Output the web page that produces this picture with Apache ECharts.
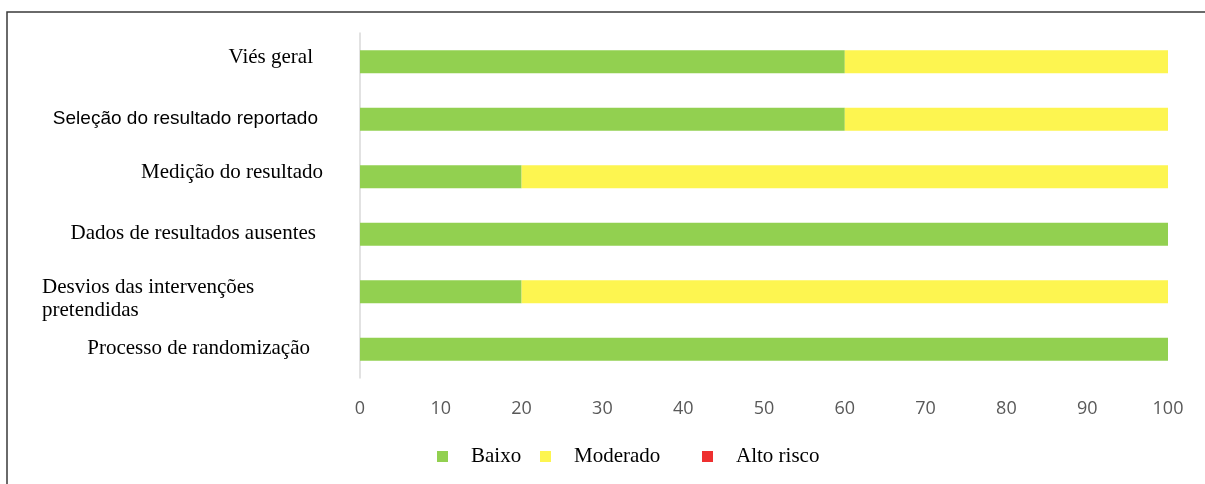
<!DOCTYPE html>
<html>
<head>
<meta charset="utf-8">
<script src="https://cdn.jsdelivr.net/npm/echarts@6/dist/echarts.min.js"></script>
<style>
html,body{margin:0;padding:0;background:#fff;}
#chart{width:1205px;height:484px;}
</style>
</head>
<body>
<div id="chart"></div>
<script>
// Data (bottom to top, as ECharts places categories on a y category axis)
const categories = [
  'Processo de randomização',
  'Desvios das intervenções\npretendidas',
  'Dados de resultados ausentes',
  'Medição do resultado',
  'Seleção do resultado reportado',
  'Viés geral'
];
const seriesNames = ['Baixo', 'Moderado', 'Alto risco'];
const baixo = [100, 20, 100, 20, 60, 60];
const moderado = [0, 80, 0, 80, 40, 40];
const altoRisco = [0, 0, 0, 0, 0, 0];
const xTicks = [0, 10, 20, 30, 40, 50, 60, 70, 80, 90, 100];

const colors = ['#92d050', '#fdf550', '#ee3030'];
const serif = '"Liberation Serif", "Times New Roman", serif';
const sans = '"Liberation Sans", Arial, sans-serif';

// label style per category index
const labelStyleKey = ['p', 'd', 'da', 'm', 's', 'v'];

const chart = echarts.init(document.getElementById('chart'), null, {renderer: 'canvas'});
const serifBase = {fontFamily: serif, fontSize: 21, color: '#000', lineHeight: 23};
chart.setOption({
  animation: false,
  backgroundColor: '#fff',
  graphic: [{
    type: 'rect',
    shape: {x: 7, y: 12, width: 1400, height: 600},
    style: {fill: 'none', stroke: '#3a3a3a', lineWidth: 1.5},
    silent: true
  }],
  grid: {left: 360, right: 37, top: 33, bottom: 106, containLabel: false},
  xAxis: {
    type: 'value',
    min: xTicks[0],
    max: xTicks[xTicks.length - 1],
    interval: xTicks[1] - xTicks[0],
    axisLine: {show: false},
    axisTick: {show: false},
    splitLine: {show: false},
    axisLabel: {
      margin: 22,
      fontFamily: '"Open Sans", sans-serif',
      fontSize: 18,
      color: '#595959'
    }
  },
  yAxis: {
    type: 'category',
    data: categories,
    axisLine: {show: true, lineStyle: {color: '#d9d9d9', width: 1.5}},
    axisTick: {show: false},
    splitLine: {show: false},
    axisLabel: {
      margin: 37,
      formatter: function (value, index) {
        const key = labelStyleKey[index];
        if (key === 'd') {
          const lines = value.split('\n');
          return '{sp| }\n{d|' + lines[0] + '}\n{d|' + lines[1] + '}';
        }
        return '{' + key + '|' + value + '}';
      },
      rich: {
        p: Object.assign({}, serifBase, {padding: [0, 13, 2, 0]}),
        sp: {fontSize: 2, lineHeight: 14, color: 'transparent'},
        d: Object.assign({}, serifBase, {width: 281, align: 'left'}),
        da: Object.assign({}, serifBase, {padding: [0, 7, 2, 0]}),
        m: Object.assign({}, serifBase, {padding: [0, 0, 8, 0]}),
        s: {fontFamily: sans, fontSize: 19, color: '#000', padding: [0, 5, 0, 0]},
        v: Object.assign({}, serifBase, {padding: [0, 10, 8, 0]})
      }
    }
  },
  legend: [
    {left: 432, data: [seriesNames[0]]},
    {left: 535, data: [seriesNames[1]]},
    {left: 697, data: [seriesNames[2]]}
  ].map(function (l) {
    return Object.assign({
      top: 441,
      icon: 'rect',
      itemWidth: 11,
      itemHeight: 11,
      selectedMode: false,
      textStyle: {fontFamily: serif, fontSize: 21, color: '#000', padding: [0, 0, 0, 18]}
    }, l);
  }),
  series: [
    {name: seriesNames[0], type: 'bar', stack: 'total', data: baixo, barWidth: 23, itemStyle: {color: colors[0]}},
    {name: seriesNames[1], type: 'bar', stack: 'total', data: moderado, barWidth: 23, itemStyle: {color: colors[1]}},
    {name: seriesNames[2], type: 'bar', stack: 'total', data: altoRisco, barWidth: 23, itemStyle: {color: colors[2]}}
  ]
});
</script>
</body>
</html>
